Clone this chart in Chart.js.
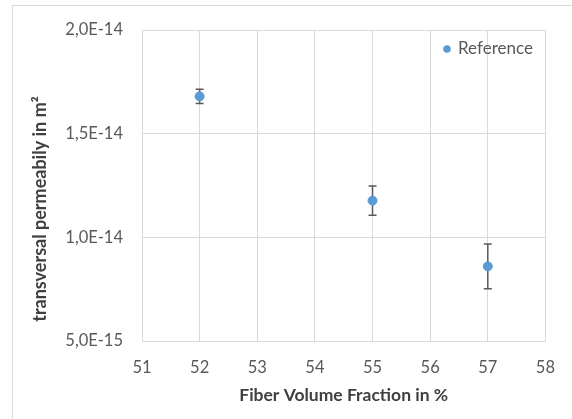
<!DOCTYPE html>
<html>
<head>
<meta charset="utf-8">
<script src="https://cdn.jsdelivr.net/npm/chart.js@4"></script>
<style>
  html, body { margin: 0; padding: 0; background: #fff; }
  #wrap { width: 572px; height: 419px; }
</style>
</head>
<body>
<div id="wrap"><canvas id="myChart" width="572" height="419"></canvas></div>
<script>
// data
const seriesLabel = "Reference";
const fiberFraction = [52, 55, 57];
const permeability = [1.68e-14, 1.177e-14, 8.6e-15];
const permeabilityErr = [3.4e-16, 7.0e-16, 1.08e-15];
const xTicks = [51, 52, 53, 54, 55, 56, 57, 58];
const yTicks = [5e-15, 1e-14, 1.5e-14, 2e-14];
const xTitle = "Fiber Volume Fraction in %";
const yTitle = "transversal permeabily in m²";

const points = fiberFraction.map((x, i) => ({ x: x, y: permeability[i] }));
const blue = "#5b9bd5";

// outer frame, rotated y title and legend inside the plot
const framePlugin = {
  id: 'frame',
  beforeDraw(chart) {
    const ctx = chart.ctx;
    ctx.save();
    ctx.fillStyle = '#fff';
    ctx.fillRect(0, 0, chart.width, chart.height);
    ctx.strokeStyle = '#d9d9d9';
    ctx.lineWidth = 1;
    ctx.strokeRect(12.5, 5.5, 800, 800);
    ctx.restore();
  },
  afterDraw(chart) {
    const ctx = chart.ctx;
    ctx.save();
    ctx.translate(40, 209);
    ctx.rotate(-Math.PI / 2);
    ctx.font = 'bold 18px Lato';
    ctx.fillStyle = '#404040';
    ctx.textAlign = 'center';
    ctx.textBaseline = 'middle';
    ctx.fillText(yTitle, 0, 0);
    ctx.restore();

    // legend
    const ds = chart.data.datasets[0];
    ctx.save();
    ctx.fillStyle = ds.backgroundColor;
    ctx.beginPath();
    ctx.arc(447, 49, 3.8, 0, Math.PI * 2);
    ctx.fill();
    ctx.font = '17px Lato';
    ctx.fillStyle = '#595959';
    ctx.textAlign = 'left';
    ctx.textBaseline = 'middle';
    ctx.fillText(ds.label, 458, 49);
    ctx.restore();
  }
};

// error bars drawn through the scales
const errorBarPlugin = {
  id: 'errorBars',
  beforeDatasetsDraw(chart) {
    const ctx = chart.ctx;
    const xs = chart.scales.x, ys = chart.scales.y;
    ctx.save();
    ctx.strokeStyle = '#595959';
    ctx.lineWidth = 1.5;
    fiberFraction.forEach((x, i) => {
      const px = xs.getPixelForValue(x);
      const top = ys.getPixelForValue(permeability[i] + permeabilityErr[i]);
      const bot = ys.getPixelForValue(permeability[i] - permeabilityErr[i]);
      ctx.beginPath();
      ctx.moveTo(px, top); ctx.lineTo(px, bot);
      ctx.moveTo(px - 4, top); ctx.lineTo(px + 4, top);
      ctx.moveTo(px - 4, bot); ctx.lineTo(px + 4, bot);
      ctx.stroke();
    });
    ctx.restore();
  }
};

new Chart("myChart", {
  type: "scatter",
  data: {
    datasets: [{
      label: seriesLabel,
      data: points,
      backgroundColor: blue,
      borderColor: blue,
      pointRadius: 4.5,
      pointHoverRadius: 4.5
    }]
  },
  plugins: [framePlugin, errorBarPlugin],
  options: {
    responsive: false,
    animation: false,
    layout: { padding: { left: 0, top: 30, right: 21, bottom: 0 } },
    plugins: {
      tooltip: { enabled: false },
      legend: { display: false }
    },
    scales: {
      x: {
        type: 'linear',
        min: 51,
        max: 58,
        afterBuildTicks: s => { s.ticks = xTicks.map(v => ({ value: v })); },
        afterFit: s => { s.height = 78; },
        grid: { color: '#d9d9d9', drawTicks: false },
        border: { color: '#d9d9d9' },
        ticks: {
          padding: 17,
          color: '#595959',
          font: { family: 'Lato', size: 16.5 },
          maxRotation: 0
        },
        title: {
          display: true,
          text: xTitle,
          color: '#404040',
          font: { family: 'Lato', size: 17.5, weight: 'bold' },
          padding: { top: 4, bottom: 13 }
        }
      },
      y: {
        type: 'linear',
        min: 5e-15,
        max: 2e-14,
        afterBuildTicks: s => { s.ticks = yTicks.map(v => ({ value: v })); },
        afterFit: s => { s.width = 142; },
        grid: { color: '#d9d9d9', drawTicks: false },
        border: { color: '#d9d9d9' },
        ticks: {
          padding: 19,
          color: '#595959',
          font: { family: 'Lato', size: 16.5 },
          callback: v => Number(v).toExponential(1).replace('.', ',').replace('e', 'E')
        }
      }
    }
  }
});
</script>
</body>
</html>
